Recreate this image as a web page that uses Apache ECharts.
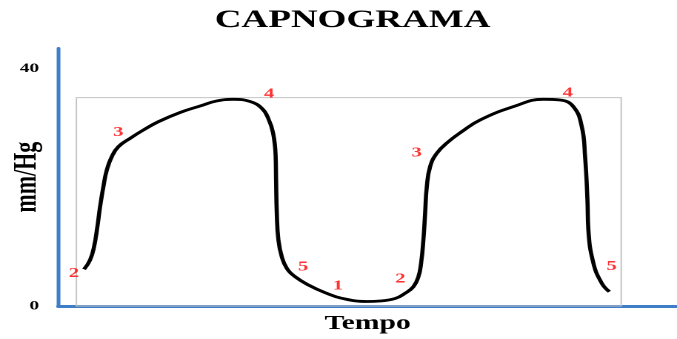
<!DOCTYPE html>
<html>
<head>
<meta charset="utf-8">
<script src="https://cdn.jsdelivr.net/npm/echarts@6/dist/echarts.min.js"></script>
<style>
  html, body { margin: 0; padding: 0; background: #fff; overflow: hidden; }
  /* the reference picture is stretched sideways, so the chart is too */
  #main { width: 457px; height: 339px; transform: scaleX(1.4814); transform-origin: 0 0; }
</style>
</head>
<body>
<div id="main"></div>
<script>
const tempo = [0.428, 0.528, 0.595, 0.650, 0.695, 0.750, 0.807, 0.890, 1.000, 1.195, 1.417, 1.667, 2.028, 2.362, 2.640, 2.917, 3.195, 3.390, 3.495, 3.578, 3.620, 3.628, 3.640, 3.667, 3.723, 3.807, 3.945, 4.167, 4.445, 4.723, 5.140, 5.362, 5.612, 5.778, 5.917, 6.000, 6.045, 6.083, 6.112, 6.140, 6.195, 6.307, 6.500, 6.723, 7.028, 7.583, 8.083, 8.362, 8.583, 8.723, 8.778, 8.817, 8.833, 8.917, 9.057, 9.183]
const co2 = [6.18, 7.75, 9.99, 13.36, 16.72, 20.09, 22.91, 25.15, 26.83, 28.24, 29.64, 31.04, 32.59, 33.68, 34.53, 34.81, 34.44, 33.30, 31.66, 29.14, 25.43, 21.22, 15.61, 11.12, 8.30, 6.35, 4.93, 3.54, 2.24, 1.30, 0.76, 0.84, 1.26, 2.14, 3.25, 4.93, 7.19, 11.12, 15.61, 20.09, 23.46, 25.72, 27.67, 29.36, 31.33, 33.57, 34.81, 34.69, 33.57, 30.20, 25.15, 17.85, 12.80, 7.19, 3.82, 2.41]

// fases numeradas (posição e texto)
const faseTempo = [0.26, 1.00, 3.51, 4.08, 4.66, 5.70, 5.97, 8.49, 9.22]
const faseValor = [5.5, 29.2, 35.7, 6.6, 3.4, 4.6, 25.8, 35.9, 6.7]
const faseNome = ['2', '3', '4', '5', '1', '2', '3', '4', '5']

// eixo y e retângulo cinza
const yTicks = [0, 40]
const caixaTempo = [0.3, 9.38]
const caixaValor = [0, 35.1]

const chartInstance = echarts.init(document.getElementById('main'), null, { devicePixelRatio: 2 })
const serif = 'Liberation Serif'

const option = {
  animation: false,
  title: {
    text: 'CAPNOGRAMA',
    left: 140,
    top: 3,
    textStyle: { fontFamily: serif, fontWeight: 'bold', fontSize: 25, color: '#000' }
  },
  grid: { left: 39.4, right: 0, top: 48.3, bottom: 33, containLabel: false, outerBoundsMode: 'none' },
  xAxis: {
    type: 'value',
    min: 0,
    max: 10.31,
    name: 'Tempo',
    nameLocation: 'middle',
    nameGap: 8,
    nameMoveOverlap: false,
    nameTextStyle: { fontFamily: serif, fontWeight: 'bold', fontSize: 20, color: '#000' },
    axisLine: { lineStyle: { color: '#3d7ec6', width: 3 } },
    axisTick: { show: false },
    axisLabel: { show: false },
    splitLine: { show: false }
  },
  yAxis: {
    type: 'value',
    min: 0,
    max: 43.4,
    interval: 40,
    name: 'mm/Hg',
    nameLocation: 'middle',
    nameGap: 10,
    nameMoveOverlap: false,
    nameTextStyle: { fontFamily: serif, fontWeight: 'bold', fontSize: 22, color: '#000' },
    axisLine: { show: true, lineStyle: { color: '#3d7ec6', width: 2.5 } },
    axisTick: { show: false },
    axisLabel: {
      margin: 13,
      fontFamily: serif,
      fontWeight: 'bold',
      fontSize: 13,
      color: '#000',
      formatter: v => (yTicks.includes(v) ? String(v) : '')
    },
    splitLine: { show: false }
  },
  series: [
    {
      type: 'line',
      data: tempo.map((t, i) => [t, co2[i]]),
      showSymbol: false,
      smooth: 0.45,
      lineStyle: { color: '#000', width: 2.8 },
      markArea: {
        silent: true,
        itemStyle: { color: 'rgba(0,0,0,0)', borderColor: '#c4c4c4', borderWidth: 1 },
        data: [[
          { xAxis: caixaTempo[0], yAxis: caixaValor[0] },
          { xAxis: caixaTempo[1], yAxis: caixaValor[1] }
        ]]
      },
      z: 3
    },
    {
      type: 'scatter',
      data: faseTempo.map((t, i) => ({ name: faseNome[i], value: [t, faseValor[i]] })),
      symbolSize: 1,
      itemStyle: { color: 'rgba(0,0,0,0)' },
      label: {
        show: true,
        position: 'inside',
        formatter: '{b}',
        fontFamily: serif,
        fontWeight: 'bold',
        fontSize: 14,
        color: '#ff0000'
      },
      z: 4
    }
  ]
}
chartInstance.setOption(option)
</script>
</body>
</html>
